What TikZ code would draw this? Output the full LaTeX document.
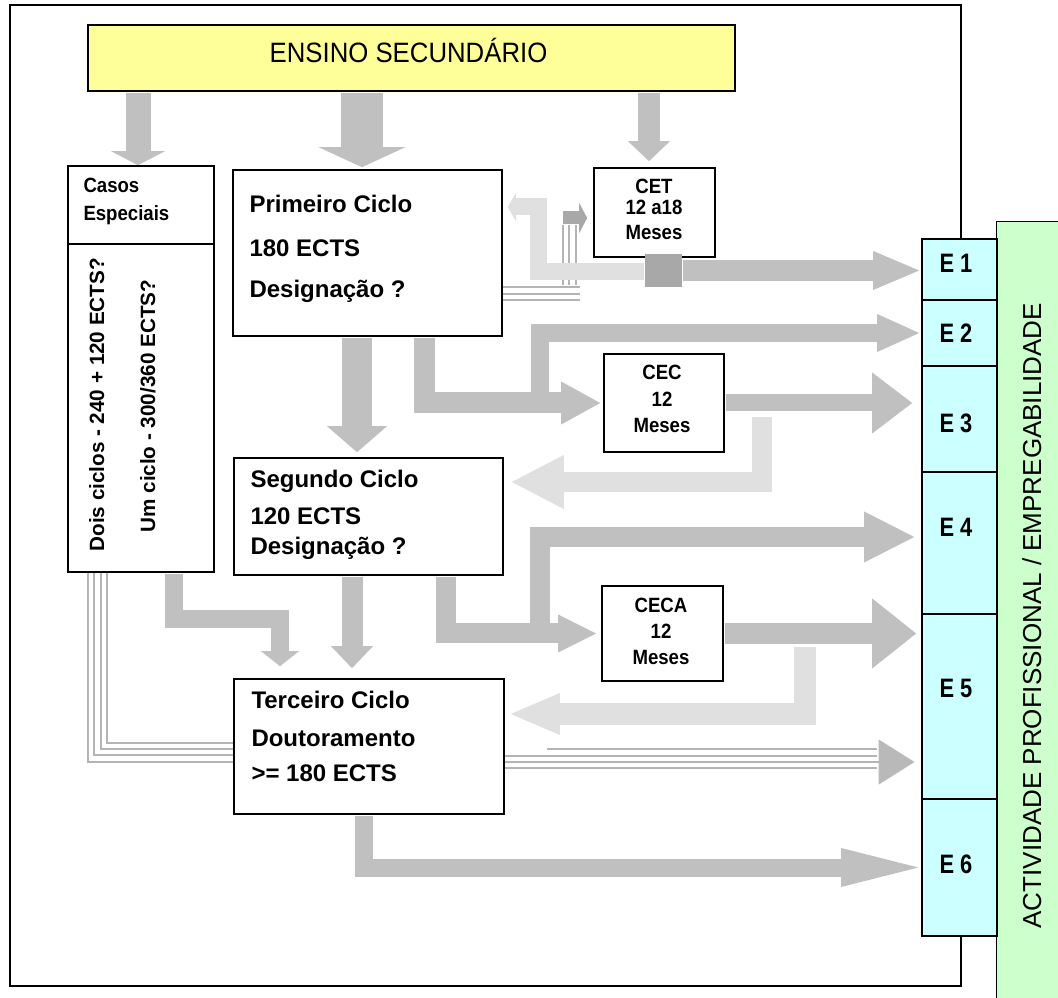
\documentclass[tikz,border=0pt]{standalone}
\usepackage{fontspec}
\setmainfont{Liberation Sans}
\newfontfamily\boxnarrow[FakeStretch=0.9]{Liberation Sans}
\newfontfamily\enarrow[FakeStretch=0.82]{Liberation Sans}
\newfontfamily\secnarrow[FakeStretch=0.92]{Liberation Sans}
\usetikzlibrary{arrows.meta,fit,calc}

\definecolor{secyellow}{RGB}{255,255,153}
\definecolor{ecyan}{RGB}{204,255,255}
\definecolor{egreen}{RGB}{204,255,204}
\definecolor{flowgray}{RGB}{192,192,192}
\definecolor{backgray}{RGB}{224,224,224}
\definecolor{cetgray}{RGB}{168,168,168}
\definecolor{pipegray}{RGB}{180,180,180}
\definecolor{fuzzgray}{RGB}{185,185,185}

\tikzset{every picture/.style={line width=0.75pt}}
\tikzset{
  box/.style={draw, line width=1.2pt, fill=white, inner sep=0pt},
  ecell/.style={draw, line width=1.2pt, fill=ecyan, inner sep=0pt},
  fat/.style n args={4}{draw=#1, line width=#2, shorten <=0.6pt, -{Triangle[length=#3,width=#4,line width=0pt]}},
  pipe/.style={draw=pipegray, line width=1.5pt},
  lbl/.style={inner sep=0pt, anchor=base west, font=\bfseries\fontsize{18}{20}\selectfont},
  slbl/.style={inner sep=0pt, anchor=base, font=\boxnarrow\bfseries\fontsize{15.5}{17}\selectfont},
  elbl/.style={inner sep=0pt, anchor=base west, font=\enarrow\bfseries\fontsize{20}{22}\selectfont},
  vlbl/.style={inner sep=0pt, anchor=base west, rotate=90, font=\bfseries\fontsize{15.5}{17}\selectfont},
}

\begin{document}
\begin{tikzpicture}[x=0.75pt,y=0.75pt,yscale=-1,xscale=1]
\path[use as bounding box] (0,0) rectangle (1058,998);

%Shape: Rectangle (frame)
\draw[line width=1.2pt] (10,5) rectangle (961,986);

%Shape: Rectangle (actividade)
\node[fill=egreen, inner sep=0pt, fit={(997,222) (1070,1010)}] (act) {};
\draw[line width=1.2pt] (act.south west) -- (act.north west) -- (act.north east);

%Shape: E cells
\foreach \n/\ya/\yb in {1/239/300,2/300/366,3/366/472,4/472/614,5/614/799,6/799/936}
  \node[ecell, fit={(922,\ya) (997,\yb)}] (e\n) {};

%Shape: Rectangles
\node[box, fill=secyellow, fit={(88,25) (735,91)}] (sec) {};
\node[box, fit={(68,166) (214,244)}] (casos) {};
\node[box, fit={(68,244) (214,572)}] (casosb) {};
\node[box, fit={(233,170) (502,336)}] (prim) {};
\node[box, fit={(234,458) (503,575)}] (seg) {};
\node[box, fit={(234,679) (504,814)}] (terc) {};
\node[box, fit={(594,168) (715,257)}] (cet) {};
\node[box, fit={(604,354) (724,452)}] (cec) {};
\node[box, fit={(602,586) (723,681)}] (ceca) {};

%Bends
\coordinate (b2) at (540,410);
\coordinate (b3) at (762,416);
\coordinate (b4) at (540,635);
\coordinate (b5) at (805,646);
\coordinate (b6) at (280,619);
\coordinate (b7) at (538,207);
\coordinate (b8) at (562,218);
\coordinate (fz) at (877,0);

%Thin Lines
\foreach \xx in {563,569,576}
  \draw[pipe] (\xx,225) -- (\xx,285);
\foreach \yy in {287,294,300}
  \draw[pipe] (prim.east |- 0,\yy) -- (580,\yy);
\foreach \xx/\yy in {88/762,94/755,101/749,107/743}
  \draw[pipe] (casosb.south -| \xx,0) |- (terc.west |- 0,\yy);
\draw[pipe] (547,749) -- (fz |- 0,749);
\foreach \yy in {756,768}
  \draw[pipe] (terc.east |- 0,\yy) -- (fz |- 0,\yy);
\draw[pipe, shorten >=5pt, -{Triangle[length=27pt,width=34pt,line width=0pt,color=fuzzgray]}] (terc.east |- 0,762) -- (e5.west |- 0,762);

%Arrows from secundario
\draw[fat={flowgray}{18.75pt}{10.5pt}{40.5pt}] (sec.south -| 138,0) -- (casos.north -| 138,0);
\draw[fat={flowgray}{31.5pt}{15pt}{65pt}, shorten >=1.5pt] (sec.south -| 362,0) -- (prim.north -| 362,0);
\draw[fat={flowgray}{16.5pt}{15pt}{31.5pt}, shorten >=4.5pt] (sec.south -| 649,0) -- (cet.north -| 649,0);

%Back arrow to primeiro
\draw[fat={backgray}{12.75pt}{6pt}{21pt}, shorten >=3.75pt] (cet.south -| 645,0) ++(0,14) -| (b7) -- (prim.east |- b7);
\node[fill=cetgray, inner sep=0pt, fit={(645,254) (682,287)}] (cetsq) {};
\draw[fat={cetgray}{9.75pt}{6pt}{22.5pt}, shorten >=4.5pt] (b8) -- (cet.west |- b8);

%Arrows
\draw[fat={flowgray}{15.75pt}{34.5pt}{29.25pt}, shorten >=1.5pt] (cetsq.east) -- (cetsq.east -| e1.west);
\draw[fat={flowgray}{22.5pt}{19.5pt}{45pt}, shorten >=3.75pt] (prim.south -| 357,0) -- (seg.north -| 357,0);
\draw[fat={flowgray}{15.75pt}{29.25pt}{32.25pt}, shorten >=2.25pt] (prim.south -| 424,0) |- (cec.west);
\draw[fat={flowgray}{13.5pt}{31.5pt}{28.5pt}, shorten >=1.5pt] (b2) |- (e2.west);
\draw[fat={flowgray}{12.75pt}{30pt}{45.75pt}, shorten >=6.75pt] (cec.east) -- (cec.east -| e3.west);
\draw[fat={backgray}{15pt}{39pt}{40.5pt}] (b3) |- ($(seg.east)+(8,-34.5)$);
\draw[fat={flowgray}{15pt}{28.5pt}{28.5pt}, shorten >=3.75pt] (seg.south -| 446,0) |- (ceca.west);
\draw[fat={flowgray}{15pt}{37.5pt}{38.25pt}, shorten >=5.25pt] (b4) |- ($(e4.west)+(0,-6)$);
\draw[fat={flowgray}{15.75pt}{33pt}{52.5pt}, shorten >=3.75pt] (ceca.east) -- (ceca.east -| e5.west);
\draw[fat={backgray}{16.5pt}{36.75pt}{31.5pt}] (b5) |- ($(terc.east)+(6,-32.5)$);
\draw[fat={flowgray}{13.5pt}{11.25pt}{28.5pt}, shorten >=9pt] (casosb.south -| 174,0) |- (b6) -- (terc.north -| b6);
\draw[fat={flowgray}{15.75pt}{16.5pt}{31.5pt}, shorten >=7.5pt] (seg.south -| 352,0) -- (terc.north -| 352,0);
\draw[fat={flowgray}{13.5pt}{57.75pt}{29.25pt}, shorten >=2.25pt] (terc.south -| 364,0) |- (e6.west);

% Text Node
\node[inner sep=0pt, anchor=base, font=\secnarrow\fontsize{21}{23}\selectfont] (tsec) at (408.5,63) {ENSINO SECUNDÁRIO};
% Text Node
\node[inner sep=0pt, anchor=base west, font=\boxnarrow\bfseries\fontsize{15.5}{17}\selectfont] (tcas1) at (83,193) {Casos};
\node[inner sep=0pt, anchor=base west, font=\boxnarrow\bfseries\fontsize{15.5}{17}\selectfont] (tcas2) at (83,221) {Especiais};
\node[vlbl] (tcas3) at (104,552) {Dois ciclos - 240 + 120 ECTS?};
\node[vlbl] (tcas4) at (155,533) {Um ciclo - 300/360 ECTS?};
% Text Node
\node[lbl] (tpri1) at (249,213) {Primeiro Ciclo};
\node[lbl] (tpri2) at (249,257) {180 ECTS};
\node[lbl] (tpri3) at (249,298) {Designação ?};
% Text Node
\node[lbl] (tseg1) at (250,488) {Segundo Ciclo};
\node[lbl] (tseg2) at (250,525) {120 ECTS};
\node[lbl] (tseg3) at (250,555) {Designação ?};
% Text Node
\node[lbl] (tter1) at (251,709) {Terceiro Ciclo};
\node[lbl] (tter2) at (251,746) {Doutoramento};
\node[lbl] (tter3) at (251,782) {>= 180 ECTS};
% Text Node
\node[slbl] (tcet1) at (654,194) {CET};
\node[slbl] (tcet2) at (654,215) {12 a18};
\node[slbl] (tcet3) at (654,240) {Meses};
% Text Node
\node[slbl] (tcec1) at (662,380) {CEC};
\node[slbl] (tcec2) at (662,407) {12};
\node[slbl] (tcec3) at (662,433) {Meses};
% Text Node
\node[slbl] (tcea1) at (661,613) {CECA};
\node[slbl] (tcea2) at (661,639) {12};
\node[slbl] (tcea3) at (661,665) {Meses};
% Text Node
\foreach \n/\yb in {1/273,2/343,3/433,4/537,5/698,6/873}
  \node[elbl] (le\n) at (939,\yb) {E \n};
% Text Node
\node[inner sep=0pt, anchor=base west, rotate=90, font=\fontsize{19.5}{21}\selectfont] (tact) at (1041,929) {ACTIVIDADE PROFISSIONAL / EMPREGABILIDADE};
\end{tikzpicture}
\end{document}
